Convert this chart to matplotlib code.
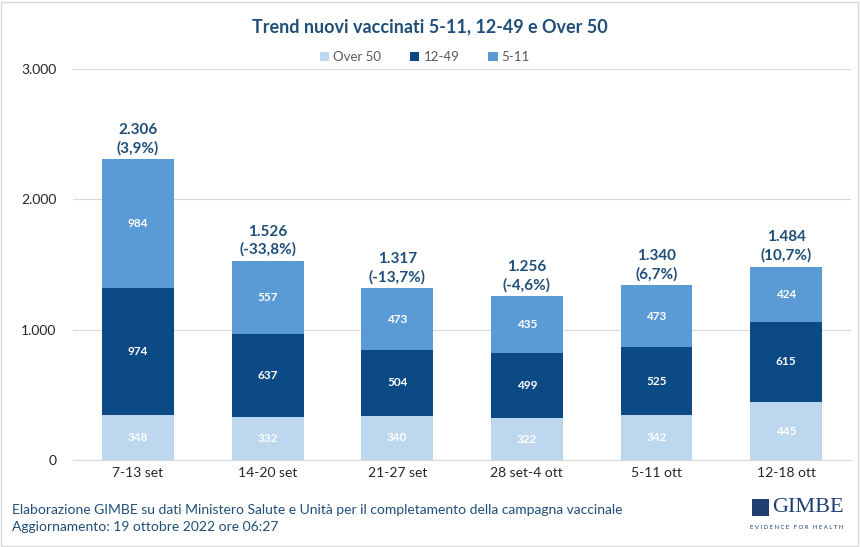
import matplotlib
matplotlib.use("Agg")
import matplotlib.pyplot as plt
from matplotlib.patches import Rectangle
import numpy as np

categories = ["7-13 set", "14-20 set", "21-27 set", "28 set-4 ott", "5-11 ott", "12-18 ott"]
over50 = [348, 332, 340, 322, 342, 445]
age12_49 = [974, 637, 504, 499, 525, 615]
age5_11 = [984, 557, 473, 435, 473, 424]
pct_change = [3.9, -33.8, -13.7, -4.6, 6.7, 10.7]
yticks = [0, 1000, 2000, 3000]
ytick_labels = ["0", "1.000", "2.000", "3.000"]

plt.rcParams['font.family'] = ['Lato', 'DejaVu Sans']

c_over50 = "#BDD7EE"
c_1249 = "#0B4A85"
c_511 = "#5B9BD5"
c_text = "#1F4E79"

def fmt_int(v):
    return f"{v:,}".replace(",", ".")

def fmt_pct(p):
    return "(" + f"{p:.1f}".replace(".", ",") + "%)"

fig = plt.figure(figsize=(8.6, 5.47), dpi=100)
ax = fig.add_axes([0.085, 0.159, 0.9045, 0.715])

x = np.arange(len(categories))
w = 0.555
o = np.array(over50)
m = np.array(age12_49)
y = np.array(age5_11)
b1 = ax.bar(x, o, w, color=c_over50, label="Over 50", zorder=3)
b2 = ax.bar(x, m, w, bottom=o, color=c_1249, label="12-49", zorder=3)
b3 = ax.bar(x, y, w, bottom=o + m, color=c_511, label="5-11", zorder=3)

for i in range(len(categories)):
    ax.text(x[i], o[i] / 2, str(o[i]), ha="center", va="center", color="white",
            fontsize=8.5, fontweight="bold", zorder=4)
    ax.text(x[i], o[i] + m[i] / 2, str(m[i]), ha="center", va="center", color="white",
            fontsize=8.5, fontweight="bold", zorder=4)
    ax.text(x[i], o[i] + m[i] + y[i] / 2, str(y[i]), ha="center", va="center", color="white",
            fontsize=8.5, fontweight="bold", zorder=4)
    tot = o[i] + m[i] + y[i]
    ax.annotate(fmt_int(int(tot)) + "\n" + fmt_pct(pct_change[i]), (x[i], tot),
                xytext=(0, 3), textcoords="offset points", ha="center", va="bottom",
                color=c_text, fontsize=11, fontweight="bold", linespacing=1.3, zorder=4)

ax.set_xlim(-0.5, len(categories) - 0.5)
ax.set_ylim(0, 3000)
ax.set_yticks(yticks)
ax.set_yticklabels(ytick_labels, fontsize=10, color="#262626")
ax.set_xticks(x)
ax.set_xticklabels(categories, fontsize=10, color="#262626")
ax.tick_params(axis="y", length=0, pad=12)
ax.tick_params(axis="x", length=0, pad=5)
ax.yaxis.grid(True, color="#D9D9D9", linewidth=0.8, zorder=0)
for s in ["top", "right", "left"]:
    ax.spines[s].set_visible(False)
ax.spines["bottom"].set_color("#D9D9D9")

fig.text(0.5, 0.951, "Trend nuovi vaccinati 5-11, 12-49 e Over 50", ha="center", va="center",
         fontsize=13, fontweight="bold", color=c_text)
fig.legend(handles=[b1, b2, b3], labels=["Over 50", "12-49", "5-11"], loc="center",
           bbox_to_anchor=(0.494, 0.896), ncol=3, frameon=False, fontsize=9.5,
           handlelength=0.7, handleheight=0.7, handletextpad=0.3, columnspacing=2.2,
           labelcolor="#595959")

fig.text(0.014, 0.067, "Elaborazione GIMBE su dati Ministero Salute e Unità per il completamento della campagna vaccinale",
         ha="left", va="center", fontsize=10, color=c_text)
fig.text(0.014, 0.036, "Aggiornamento: 19 ottobre 2022 ore 06:27",
         ha="left", va="center", fontsize=10, color=c_text)

fig.text(0.939, 0.072, "GIMBE", ha="center", va="center", fontsize=16, color="#1F3F73",
         family=["Liberation Serif", "DejaVu Serif"])
fig.text(0.926, 0.036, "E V I D E N C E   F O R   H E A L T H", ha="center", va="center", fontsize=4.3,
         color="#1F3F73")
fig.add_artist(Rectangle((0.874, 0.057), 0.02, 0.031, transform=fig.transFigure,
                         facecolor="#1F3F73", edgecolor="none"))

fig.add_artist(Rectangle((0.001, 0.002), 0.997, 0.995, transform=fig.transFigure,
                         facecolor="none", edgecolor="#D9D9D9", linewidth=1))

fig.savefig("out.png", dpi=100, facecolor="white")
